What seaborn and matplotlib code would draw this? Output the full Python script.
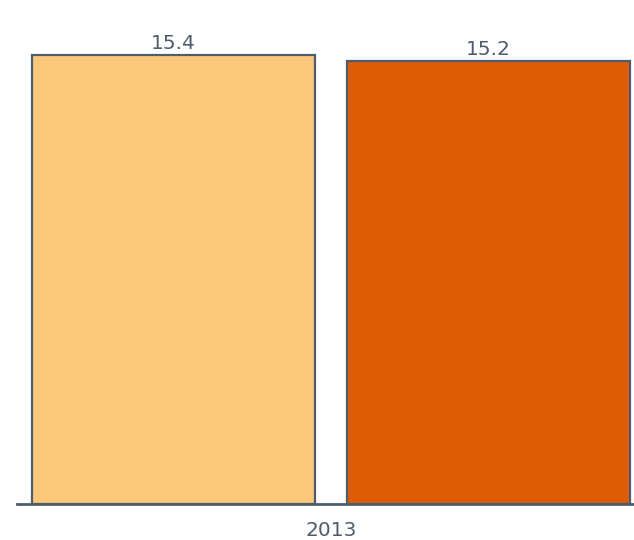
import matplotlib.pyplot as plt
import seaborn as sns
import pandas as pd

# Data
years = ["2013", "2013"]
series = ["A", "B"]
values = [15.4, 15.2]
colors = ["#FBC77A", "#DF5C07"]

df = pd.DataFrame({"year": years, "series": series, "value": values})

sns.set_theme(style="white")
plt.rcParams['font.family'] = ['DejaVu Sans']

edge = "#4E5D6C"

fig = plt.figure(figsize=(6.34, 5.40), dpi=100)
ax = fig.add_axes([17 / 634, 36 / 540, 617 / 634, 504 / 540])

sns.barplot(data=df, x="year", y="value", hue="series", palette=colors,
            saturation=1, width=0.8, gap=0.1016, edgecolor=edge,
            linewidth=1.6, legend=False, ax=ax)

for c in ax.containers:
    ax.bar_label(c, fmt="%.1f", padding=1, fontsize=14.5, color=edge)

ax.set_xlim(-0.3987, 0.3848)
ax.set_ylim(0, 17.28)
ax.set_xlabel("")
ax.set_ylabel("")
ax.set_yticks([])
ax.tick_params(axis="x", length=0, labelsize=14.5, labelcolor=edge, pad=12)
for s in ["top", "right", "left"]:
    ax.spines[s].set_visible(False)
ax.spines["bottom"].set_color(edge)
ax.spines["bottom"].set_linewidth(2)

fig.savefig("out.png", dpi=100)
